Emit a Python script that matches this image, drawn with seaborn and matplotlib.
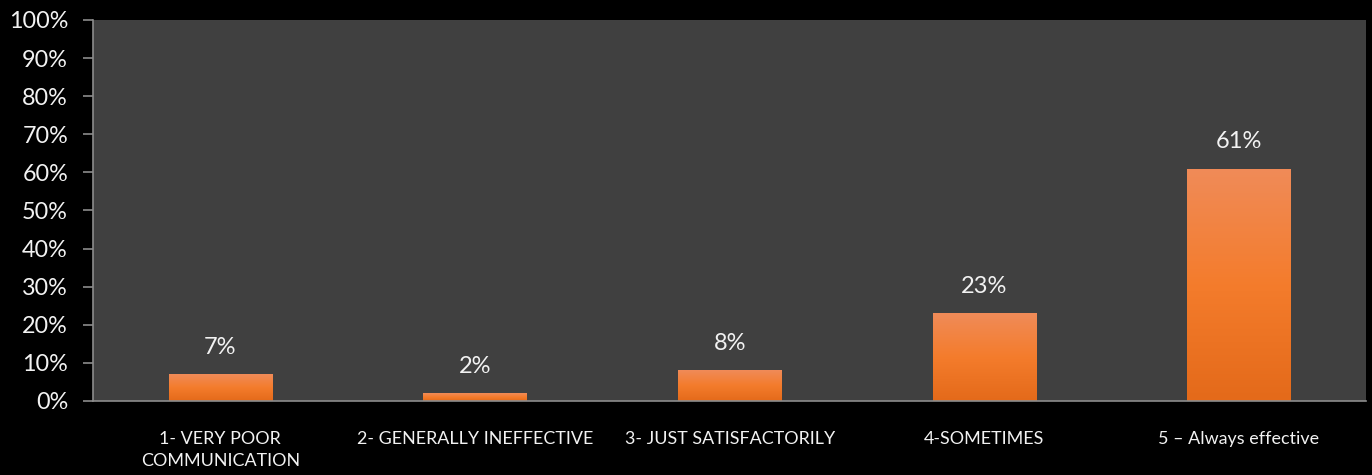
import numpy as np
import pandas as pd
import matplotlib
matplotlib.use("Agg")
import matplotlib.pyplot as plt
from matplotlib.colors import LinearSegmentedColormap
import seaborn as sns

categories = [
    "1- VERY POOR\nCOMMUNICATION",
    "2- GENERALLY INEFFECTIVE",
    "3- JUST SATISFACTORILY",
    "4-SOMETIMES",
    "5 \u2013 Always effective",
]
values = [7, 2, 8, 23, 61]
labels = ["7%", "2%", "8%", "23%", "61%"]
y_ticks = list(range(0, 101, 10))

df = pd.DataFrame({"category": categories, "value": values})

sns.set_theme(style="dark")
plt.rcParams["font.family"] = ["Lato", "DejaVu Sans"]

fig = plt.figure(figsize=(13.72, 4.75), dpi=100, facecolor="black")
ax = fig.add_axes([0.0678, 0.156, 0.928, 0.802])
ax.set_facecolor("#404040")

sns.barplot(data=df, x="category", y="value", color="#F47B2A",
            width=0.405, linewidth=0, edgecolor="none", ax=ax)

# vertical orange gradient inside each bar
grad = LinearSegmentedColormap.from_list("og", ["#E46A1A", "#F47C2C", "#F08B58"])
for bar in ax.patches:
    x0, y0 = bar.get_x(), bar.get_y()
    w, h = bar.get_width(), bar.get_height()
    im = ax.imshow(np.linspace(0, 1, 100).reshape(-1, 1), cmap=grad,
                   extent=[x0, x0 + w, y0, y0 + h], origin="lower",
                   aspect="auto", zorder=bar.get_zorder() + 0.1)
    im.set_clip_path(bar)

for i, (v, lab) in enumerate(zip(values, labels)):
    ax.text(i, v + 7, lab, ha="center", va="center",
            color="#F2F2F2", fontsize=17)

ax.set_xlim(-0.5, len(categories) - 0.5)
ax.set_ylim(0, 100)
ax.set_yticks(y_ticks)
ax.set_yticklabels([f"{t}%" for t in y_ticks])
ax.set_xlabel("")
ax.set_ylabel("")
ax.grid(False)

for side in ["top", "right"]:
    ax.spines[side].set_visible(False)
for side in ["left", "bottom"]:
    ax.spines[side].set_visible(True)
    ax.spines[side].set_color("#8C8C8C")
    ax.spines[side].set_linewidth(1.2)

ax.tick_params(axis="y", colors="#8C8C8C", labelcolor="#F2F2F2",
               labelsize=16.8, length=7, width=1.2, direction="out",
               left=True, pad=11)
ax.tick_params(axis="x", length=0, labelcolor="#F2F2F2", labelsize=12.9, pad=22)
for t in ax.get_xticklabels():
    t.set_linespacing(1.45)

fig.savefig("out.png", dpi=100, facecolor="black")
